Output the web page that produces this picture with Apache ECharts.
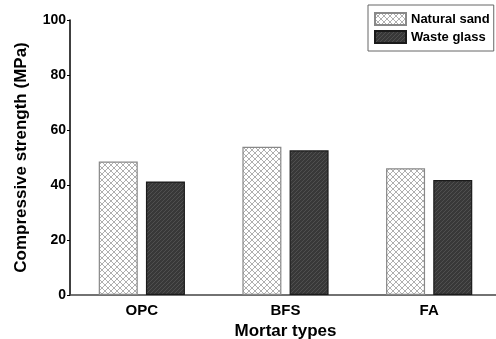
<!DOCTYPE html>
<html><head><meta charset="utf-8">
<script src="https://cdn.jsdelivr.net/npm/echarts@6/dist/echarts.min.js"></script>
<style>html,body{margin:0;padding:0;background:#fff}#c{width:496px;height:339px}</style>
</head><body><div id="c"></div>
<script>
const categories = ['OPC', 'BFS', 'FA'];
const naturalSand = [48.5, 53.9, 46.1];
const wasteGlass = [41.3, 52.6, 41.8];
const yTicks = [0, 20, 40, 60, 80, 100];

function crossPattern() {
  const c = document.createElement('canvas');
  c.width = 6; c.height = 6;
  const g = c.getContext('2d');
  g.fillStyle = '#fff'; g.fillRect(0, 0, 6, 6);
  g.strokeStyle = '#9a9a9a'; g.lineWidth = 0.8;
  g.beginPath();
  g.moveTo(0, 0); g.lineTo(6, 6);
  g.moveTo(6, 0); g.lineTo(0, 6);
  g.stroke();
  return c;
}
function hatchPattern() {
  const c = document.createElement('canvas');
  c.width = 4; c.height = 4;
  const g = c.getContext('2d');
  g.fillStyle = '#383838'; g.fillRect(0, 0, 4, 4);
  g.strokeStyle = '#555'; g.lineWidth = 0.8;
  g.beginPath();
  g.moveTo(0, 4); g.lineTo(4, 0);
  g.moveTo(-1, 1); g.lineTo(1, -1);
  g.moveTo(3, 5); g.lineTo(5, 3);
  g.stroke();
  return c;
}

const chart = echarts.init(document.getElementById('c'), null, {renderer: 'canvas'});
const font = 'Liberation Sans, Arial, sans-serif';
chart.setOption({
  animation: false,
  backgroundColor: '#fff',
  grid: {left: 70, top: 20, width: 431, height: 275, containLabel: false, outerBoundsMode: 'none'},
  legend: {
    orient: 'vertical', left: 368, top: 5,
    padding: [7, 4, 7, 6],
    borderColor: '#666', borderWidth: 1,
    icon: 'rect',
    itemWidth: 31, itemHeight: 12, itemGap: 4,
    textStyle: {fontFamily: font, fontWeight: 'bold', fontSize: 13, color: '#000'},
    data: ['Natural sand', 'Waste glass']
  },
  xAxis: {
    type: 'category', data: categories,
    name: 'Mortar types', nameLocation: 'middle', nameGap: 26,
    nameTextStyle: {fontFamily: font, fontWeight: 'bold', fontSize: 17, color: '#000'},
    axisLine: {lineStyle: {color: '#444', width: 1.5}},
    axisTick: {inside: true, length: 3, lineStyle: {color: '#444'}},
    axisLabel: {fontFamily: font, fontWeight: 'bold', fontSize: 15, color: '#000', margin: 8}
  },
  yAxis: {
    type: 'value', min: 0, max: 100, interval: 20,
    name: 'Compressive strength (MPa)', nameLocation: 'middle', nameGap: 40,
    nameTextStyle: {fontFamily: font, fontWeight: 'bold', fontSize: 17, color: '#000'},
    splitLine: {show: false},
    axisLine: {show: true, lineStyle: {color: '#000', width: 1.5}},
    axisTick: {show: true, length: 3, lineStyle: {color: '#000'}},
    axisLabel: {fontFamily: font, fontWeight: 'bold', fontSize: 14, color: '#000', margin: 4,
      formatter: v => yTicks.includes(v) ? String(v) : ''}
  },
  series: [
    {name: 'Natural sand', type: 'bar', data: naturalSand, barWidth: 39, barGap: '21%',
     itemStyle: {color: {image: crossPattern(), repeat: 'repeat'}, borderColor: '#888', borderWidth: 1.2}},
    {name: 'Waste glass', type: 'bar', data: wasteGlass, barWidth: 39,
     itemStyle: {color: {image: hatchPattern(), repeat: 'repeat'}, borderColor: '#1a1a1a', borderWidth: 1.2}}
  ]
});
</script></body></html>
